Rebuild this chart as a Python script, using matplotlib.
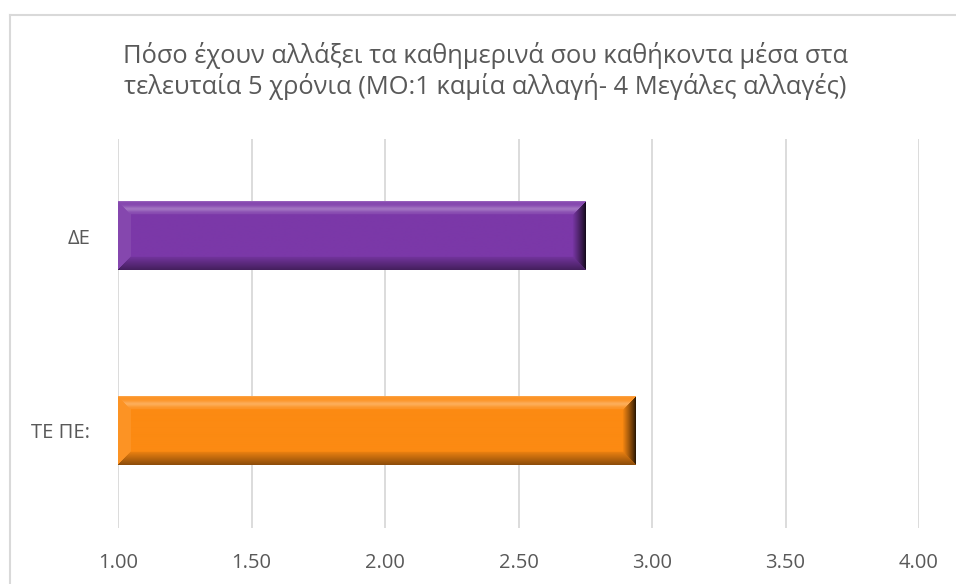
import numpy as np
import matplotlib
matplotlib.use("Agg")
import matplotlib.pyplot as plt
from matplotlib.colors import to_rgb
from matplotlib.lines import Line2D

# Data
categories = ["ΤΕ ΠΕ:", "ΔΕ"]
values = [2.94, 2.75]
colors = ["#FC8A12", "#7B38A8"]
x_ticks = [1.00, 1.50, 2.00, 2.50, 3.00, 3.50, 4.00]
title = ("Πόσο έχουν αλλάξει τα καθημερινά σου καθήκοντα μέσα στα\n"
         "τελευταία 5 χρόνια (ΜΟ:1 καμία αλλαγή- 4 Μεγάλες αλλαγές)")

plt.rcParams['font.family'] = ['Open Sans', 'DejaVu Sans']
TEXT = "#595959"
GRID = "#D9D9D9"

W, H, DPI = 956, 584, 100
fig = plt.figure(figsize=(W / DPI, H / DPI), dpi=DPI)
fig.patch.set_facecolor("white")

# plot area in pixels: left 118, right 919, top 139, bottom 528
ax = fig.add_axes([118 / W, 1 - 528 / H, (919 - 118) / W, (528 - 139) / H])
ax.set_xlim(1.0, 4.0)
ax.set_ylim(-0.5, 1.5)
ax.set_facecolor("none")

bar_h = 0.35
ypos = np.arange(len(categories))
bars = ax.barh(ypos, np.array(values) - 1.0, left=1.0, height=bar_h,
               color=colors, zorder=2)


def bevel_image(color, w, h, b):
    """Shaded bar face with a bevelled frame (light top, dark bottom/right)."""
    base = np.array(to_rgb(color))
    ys, xs = np.mgrid[0:h, 0:w] + 0.5
    dist = np.stack([ys, h - ys, xs, w - xs])
    side = np.argmin(dist, axis=0)
    dmin = np.min(dist, axis=0)
    t = np.clip(dmin / b, 0, 1)[..., None]
    img = np.tile(base, (h, w, 1))
    inb = (dmin < b)[..., None]

    light = lambda a: base + (1 - base) * a
    # top facet: light rim, then a highlight band toward its inner edge
    top = light(0.08 + 0.22 * np.exp(-((t - 0.6) / 0.2) ** 2)
                + 0.15 * np.exp(-(t / 0.08) ** 2))
    # bottom facet: darker toward the outer edge
    bottom = base * (0.55 + 0.38 * t)
    # left facet: slightly lighter
    left = light(0.08 + 0.0 * t)
    # right facet: deep shadow toward the outer edge
    right = base * (0.12 + 0.85 * t ** 0.8)

    for k, face in enumerate([top, bottom, left, right]):
        m = (side == k)[..., None] & inb
        img = np.where(m, face, img)
    return np.clip(img, 0, 1)


# pixel size of each bar from the axes transform, then overlay bevel shading
for rect, c in zip(bars, colors):
    x0, y0 = rect.get_x(), rect.get_y()
    x1, y1 = x0 + rect.get_width(), y0 + rect.get_height()
    (px0, py0), (px1, py1) = ax.transData.transform([(x0, y0), (x1, y1)])
    wpx, hpx = int(round(px1 - px0)), int(round(abs(py1 - py0)))
    img = bevel_image(c, wpx, hpx, 13)
    ax.imshow(img, extent=(x0, x1, y0, y1), origin="upper", aspect="auto",
              interpolation="bilinear", zorder=3)

ax.set_xlim(1.0, 4.0)
ax.set_ylim(-0.5, 1.5)

ax.set_xticks(x_ticks)
ax.set_xticklabels([f"{v:.2f}" for v in x_ticks])
ax.set_yticks(ypos)
ax.set_yticklabels(categories)
ax.tick_params(axis="x", length=0, pad=18, labelsize=14.5, labelcolor=TEXT)
ax.tick_params(axis="y", length=0, pad=20, labelsize=14.5, labelcolor=TEXT)
ax.xaxis.grid(True, color=GRID, linewidth=1.3, zorder=0)
ax.set_axisbelow(True)
for s in ax.spines.values():
    s.set_visible(False)

fig.text(485 / W, 1 - 71 / H, title, ha="center", va="center",
         fontsize=18.4, color=TEXT, linespacing=1.22)

# chart-area frame
fig.add_artist(Line2D([10 / W, 10 / W], [0, 1 - 15 / H], color=GRID, lw=1.5,
                      transform=fig.transFigure))
fig.add_artist(Line2D([10 / W, 1], [1 - 15 / H, 1 - 15 / H], color=GRID, lw=1.5,
                      transform=fig.transFigure))

fig.savefig("out.png", dpi=DPI, facecolor="white")
